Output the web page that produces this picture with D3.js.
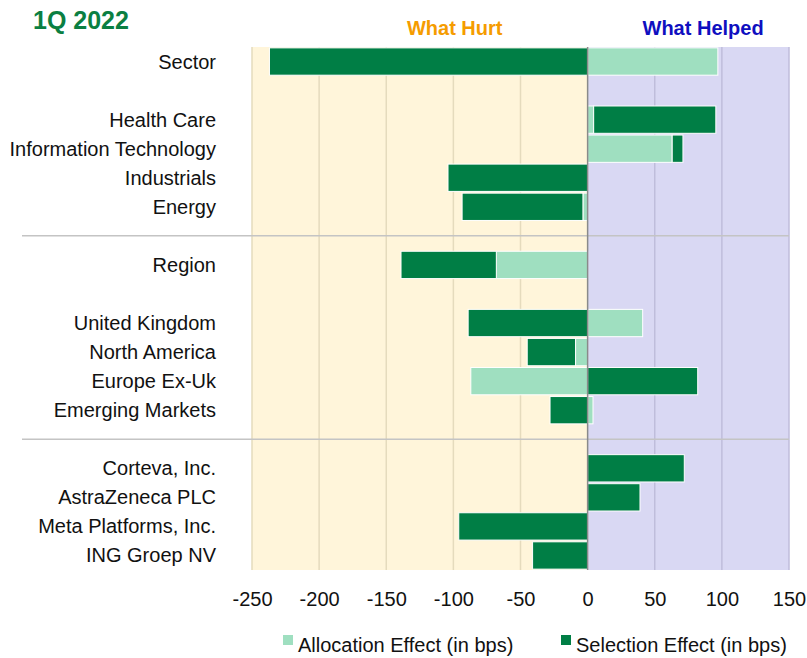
<!DOCTYPE html>
<html>
<head>
<meta charset="utf-8">
<script src="https://cdn.jsdelivr.net/npm/d3@7"></script>
<style>
  body { margin: 0; background: #fff; }
  text { font-family: "Liberation Sans", Arial, sans-serif; }
</style>
</head>
<body>
<script>

// rows of the chart, empty strings are spacer rows
const categories = ["Sector", "", "Health Care", "Information Technology", "Industrials", "Energy", "",
                    "Region", "", "United Kingdom", "North America", "Europe Ex-Uk", "Emerging Markets", "",
                    "Corteva, Inc.", "AstraZeneca PLC", "Meta Platforms, Inc.", "ING Groep NV"];
const allocation = [97, 0, 4.5, 63, 0, -3.5, 0, -68, 0, 41, -9, -87, 4, 0, 0, 0, 0, 0];
const selection  = [-237, 0, 91, 8, -104, -90, 0, -71, 0, -89, -36, 82, -28, 0, 72, 39, -96, -41];
const dividerRows = [6, 13];
const xTicks = [-250, -200, -150, -100, -50, 0, 50, 100, 150];
const seriesNames = ["Allocation Effect (in bps)", "Selection Effect (in bps)"];

const width = 807;
const height = 658;
const margin = {top: 47, right: 18, bottom: 88, left: 252};
const chartWidth = width - margin.left - margin.right;   // 537
const chartHeight = height - margin.top - margin.bottom; // 523

const colors = ["#9fdfc0", "#007e45"];

const rows = categories.map((c, i) => ({idx: i, name: c, alloc: allocation[i], sel: selection[i]}));

const stacked = d3.stack()
    .keys(["alloc", "sel"])
    .offset(d3.stackOffsetDiverging)(rows);

const xScale = d3.scaleLinear()
    .domain([-250, 150])
    .range([0, chartWidth]);

const yScale = d3.scaleBand()
    .domain(d3.range(categories.length))
    .range([0, chartHeight])
    .paddingInner(0.06)
    .paddingOuter(0.03);

const svg = d3.select('body')
    .append('svg')
        .attr('width', width)
        .attr('height', height);

// title + headers
svg.append('text')
    .attr('x', 33).attr('y', 29)
    .attr('font-size', 25).attr('font-weight', 'bold')
    .attr('fill', '#0b7f42')
    .text('1Q 2022');

svg.append('text')
    .attr('x', margin.left + xScale(-99)).attr('y', 35)
    .attr('text-anchor', 'middle')
    .attr('font-size', 20).attr('font-weight', 'bold')
    .attr('fill', '#f59c00')
    .text('What Hurt');

svg.append('text')
    .attr('x', margin.left + xScale(86)).attr('y', 35)
    .attr('text-anchor', 'middle')
    .attr('font-size', 20).attr('font-weight', 'bold')
    .attr('fill', '#0f0fc0')
    .text('What Helped');

const graph = svg.append('g')
    .attr('transform', `translate(${margin.left},${margin.top})`);

// background zones
graph.append('rect')
    .attr('x', xScale(-250)).attr('y', 0)
    .attr('width', xScale(0) - xScale(-250)).attr('height', chartHeight)
    .attr('fill', '#fff5da');
graph.append('rect')
    .attr('x', xScale(0)).attr('y', 0)
    .attr('width', xScale(150) - xScale(0)).attr('height', chartHeight)
    .attr('fill', '#d9d8f3');

// gridlines
graph.selectAll('.grid')
    .data(xTicks.filter(t => t !== 0))
    .enter()
        .append('line')
            .attr('x1', d => xScale(d)).attr('x2', d => xScale(d))
            .attr('y1', 0).attr('y2', chartHeight)
            .attr('stroke', d => d < 0 ? '#e5dbbd' : '#bfbddb')
            .attr('stroke-width', 1.5);

// section dividers
graph.selectAll('.divider')
    .data(dividerRows)
    .enter()
        .append('line')
            .attr('x1', 22 - margin.left).attr('x2', xScale(150))
            .attr('y1', d => yScale(d) + yScale.bandwidth() / 2)
            .attr('y2', d => yScale(d) + yScale.bandwidth() / 2)
            .attr('stroke', '#c4c4c4')
            .attr('stroke-width', 1.5);

// bars
graph.selectAll('.series')
    .data(stacked)
    .enter()
        .append('g')
            .attr('fill', (d, i) => colors[i])
        .selectAll('rect')
        .data(d => d.filter(p => p[1] !== p[0]))
        .enter()
            .append('rect')
                .attr('x', d => xScale(Math.min(d[0], d[1])))
                .attr('y', d => yScale(d.data.idx))
                .attr('width', d => Math.abs(xScale(d[1]) - xScale(d[0])))
                .attr('height', yScale.bandwidth())
                .attr('stroke', '#fff')
                .attr('stroke-width', 1);

// zero line
graph.append('line')
    .attr('x1', xScale(0)).attr('x2', xScale(0))
    .attr('y1', 0).attr('y2', chartHeight)
    .attr('stroke', '#8a8a8a')
    .attr('stroke-width', 1.5);

// category labels
graph.selectAll('.cat')
    .data(rows.filter(r => r.name !== ''))
    .enter()
        .append('text')
            .attr('x', 216 - margin.left)
            .attr('y', d => yScale(d.idx) + yScale.bandwidth() / 2)
            .attr('dy', '0.35em')
            .attr('text-anchor', 'end')
            .attr('font-size', 20)
            .attr('fill', '#111')
            .text(d => d.name);

// x axis (plain hyphen minus like the original)
const xAxis = graph.append('g')
    .attr('transform', `translate(0,${chartHeight})`)
    .call(d3.axisBottom(xScale).tickValues(xTicks).tickFormat(d => String(d)).tickSize(0).tickPadding(22));
xAxis.select('.domain').remove();
xAxis.selectAll('text')
    .attr('font-size', 20)
    .attr('font-family', '"Liberation Sans", Arial, sans-serif')
    .attr('fill', '#111');

// legend
const legend = svg.append('g')
    .attr('transform', `translate(283,${height - 12})`);
const legendItems = legend.selectAll('g')
    .data(seriesNames)
    .enter()
        .append('g')
            .attr('transform', (d, i) => `translate(${i * 278},0)`);
legendItems.append('rect')
    .attr('x', 0).attr('y', -11)
    .attr('width', 10).attr('height', 10)
    .attr('fill', (d, i) => colors[i]);
legendItems.append('text')
    .attr('x', 15).attr('y', 0)
    .attr('dy', '0.3em')
    .attr('font-size', 20)
    .attr('fill', '#111')
    .text(d => d);

</script>
</body>
</html>
